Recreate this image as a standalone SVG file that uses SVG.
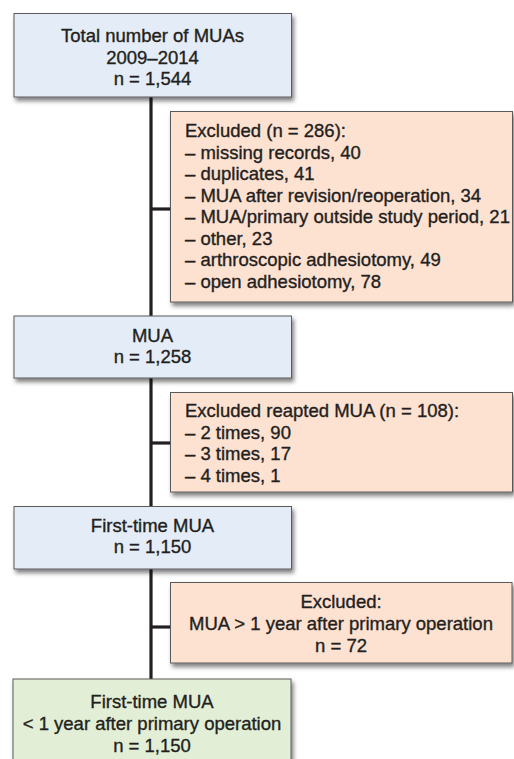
<svg xmlns="http://www.w3.org/2000/svg" width="514" height="759" viewBox="0 0 514 759">
<defs>
<filter id="sh" x="-10%" y="-10%" width="125%" height="130%">
<feDropShadow dx="2" dy="3.5" stdDeviation="2.2" flood-color="#000" flood-opacity="0.5"/>
</filter>
</defs>
<style>
.box{stroke:#5a5a5a;stroke-width:1;filter:url(#sh)}
.blue{fill:#e4ecf7}
.peach{fill:#fde1d1}
.green{fill:#e2efd6}
text{font-family:"Liberation Sans",Arial,sans-serif;font-size:18.5px;fill:#231f20;stroke:#231f20;stroke-width:0.35}
.c{text-anchor:middle}
.conn{stroke:#231f20;stroke-width:3.2;fill:none}
</style>
<rect width="514" height="759" fill="#fff"/>
<g id="connectors">
<line class="conn" x1="151" y1="97" x2="151" y2="679"/>
<line class="conn" x1="151" y1="209" x2="170" y2="209"/>
<line class="conn" x1="151" y1="443" x2="170" y2="443"/>
<line class="conn" x1="151" y1="627" x2="170" y2="627"/>
</g>
<g id="total">
<rect class="box blue" x="14" y="13.5" width="277.5" height="83.5"/>
<text class="c" x="152.5" y="42">Total number of MUAs</text>
<text class="c" x="152.5" y="63.5">2009–2014</text>
<text class="c" x="152.5" y="84.5">n = 1,544</text>
</g>
<g id="excluded1">
<rect class="box peach" x="170.5" y="111.5" width="342" height="190.5"/>
<text x="185" y="137">Excluded (n = 286):</text>
<text x="185" y="158.5">– missing records, 40</text>
<text x="185" y="180">– duplicates, 41</text>
<text x="185" y="201.5">– MUA after revision/reoperation, 34</text>
<text x="185" y="223">– MUA/primary outside study period, 21</text>
<text x="185" y="244.5">– other, 23</text>
<text x="185" y="266">– arthroscopic adhesiotomy, 49</text>
<text x="185" y="287.5">– open adhesiotomy, 78</text>
</g>
<g id="mua">
<rect class="box blue" x="14" y="316" width="277.5" height="62"/>
<text class="c" x="152.5" y="341.5">MUA</text>
<text class="c" x="152.5" y="363">n = 1,258</text>
</g>
<g id="excluded2">
<rect class="box peach" x="170.5" y="392.5" width="342" height="99.5"/>
<text x="185" y="416.5">Excluded reapted MUA (n = 108):</text>
<text x="185" y="438.5">– 2 times, 90</text>
<text x="185" y="460">– 3 times, 17</text>
<text x="185" y="481.5">– 4 times, 1</text>
</g>
<g id="firsttime">
<rect class="box blue" x="14" y="506.5" width="277.5" height="62.5"/>
<text class="c" x="152.5" y="531.5">First-time MUA</text>
<text class="c" x="152.5" y="553">n = 1,150</text>
</g>
<g id="excluded3">
<rect class="box peach" x="170.5" y="582.5" width="341.5" height="80.5"/>
<text class="c" x="341" y="608">Excluded:</text>
<text class="c" x="341" y="630">MUA &gt; 1 year after primary operation</text>
<text class="c" x="341" y="651.5">n = 72</text>
</g>
<g id="final">
<rect class="box green" x="13" y="679" width="278" height="100"/>
<text class="c" x="152" y="708">First-time MUA</text>
<text class="c" x="152" y="730">&lt; 1 year after primary operation</text>
<text class="c" x="152" y="751.5">n = 1,150</text>
</g>
</svg>
